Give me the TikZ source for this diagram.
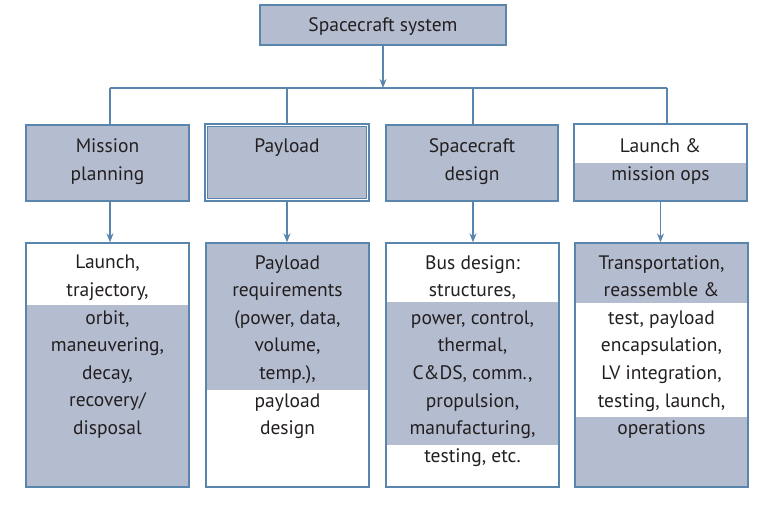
\documentclass[tikz,border=0pt]{standalone}
\usepackage{fontspec}
\setmainfont{PT Sans}
\usetikzlibrary{arrows.meta}
\definecolor{slate}{HTML}{B4BDD0}
\definecolor{edge}{HTML}{5A86AD}
\definecolor{ink}{HTML}{231F20}
\begin{document}
\begin{tikzpicture}[x=1pt,y=-1pt,
  boxframe/.style={draw=edge, line width=1.3pt, inner sep=0pt},
  txt/.style={anchor=north, inner sep=0pt, align=center, text=ink, font=\fontsize{19.5}{27.6}\selectfont},
  link/.style={draw=edge, line width=1.3pt},
  arr/.style={link, -{Stealth[length=9pt,width=7pt]}}]
\useasboundingbox (0,0) rectangle (764,510);

% top box
\node[boxframe, fill=slate, minimum width=246, minimum height=40] (sys) at (383,25) {};
\node[txt] (syst) at (383,17.5) {Spacecraft system};

% second row: backgrounds
\fill[slate] (26,125) rectangle (189,201);
\fill[slate] (386,125) rectangle (558,201);
\fill[slate] (574,163) rectangle (747,201);
\node[boxframe, minimum width=163, minimum height=76] (mp) at (107.5,163) {};
\node[boxframe, minimum width=164, minimum height=77] (pl) at (287,162.5) {};
\draw[boxframe, fill=slate] ([shift={(3,3)}]pl.north west) rectangle ([shift={(-3,-3)}]pl.south east);
\node[boxframe, minimum width=172, minimum height=76] (sd) at (472,163) {};
\node[boxframe, minimum width=173, minimum height=77] (lm) at (660.5,162.5) {};
\node[txt] (mpt) at (107.5,138.5) {Mission\\planning};
\node[txt] (plt) at (287,138.5) {Payload};
\node[txt] (sdt) at (472,138.5) {Spacecraft\\design};
\node[txt] (lmt) at (660.5,138.5) {Launch \&\\mission ops};

% third row: backgrounds
\fill[slate] (26,305) rectangle (189,487);
\fill[slate] (206,243) rectangle (369,390);
\fill[slate] (386,302) rectangle (559,445);
\fill[slate] (575,243) rectangle (748,303);
\fill[slate] (575,417) rectangle (748,487);
\node[boxframe, minimum width=163, minimum height=244] (mpd) at (107.5,365) {};
\node[boxframe, minimum width=163, minimum height=244] (pld) at (287.5,365) {};
\node[boxframe, minimum width=173, minimum height=244] (sdd) at (472.5,365) {};
\node[boxframe, minimum width=173, minimum height=244] (lmd) at (661.5,365) {};
\node[txt] (mpdt) at (107.5,255) {Launch,\\trajectory,\\orbit,\\maneuvering,\\decay,\\recovery/\\disposal};
\node[txt] (pldt) at (287.5,255) {Payload\\requirements\\(power, data,\\volume,\\temp.),\\payload\\design};
\node[txt] (sddt) at (472.5,255) {Bus design:\\structures,\\power, control,\\thermal,\\C\&DS, comm.,\\propulsion,\\manufacturing,\\testing, etc.};
\node[txt] (lmdt) at (661.5,255) {Transportation,\\reassemble \&\\test, payload\\encapsulation,\\LV integration,\\testing, launch,\\operations};

% connectors
\coordinate (busL) at (110,88);
\coordinate (busR) at (667,88);
\coordinate (d2) at (287,88);
\coordinate (d3) at (473,88);
\draw[arr] (sys.south) -- (sys.south |- busL);
\draw[link] (busL) -- (busR);
\draw[link] (busL) -- (busL |- mp.north);
\draw[link] (d2) -- (d2 |- pl.north);
\draw[link] (d3) -- (d3 |- sd.north);
\draw[link] (busR) -- (busR |- lm.north);
\draw[arr] (mp.south -| busL) -- (busL |- mpd.north);
\draw[arr] (pl.south -| d2) -- (d2 |- pld.north);
\draw[arr] (sd.south -| d3) -- (d3 |- sdd.north);
\draw[arr] (lm.south) -- (lm.south |- lmd.north);
\end{tikzpicture}
\end{document}
